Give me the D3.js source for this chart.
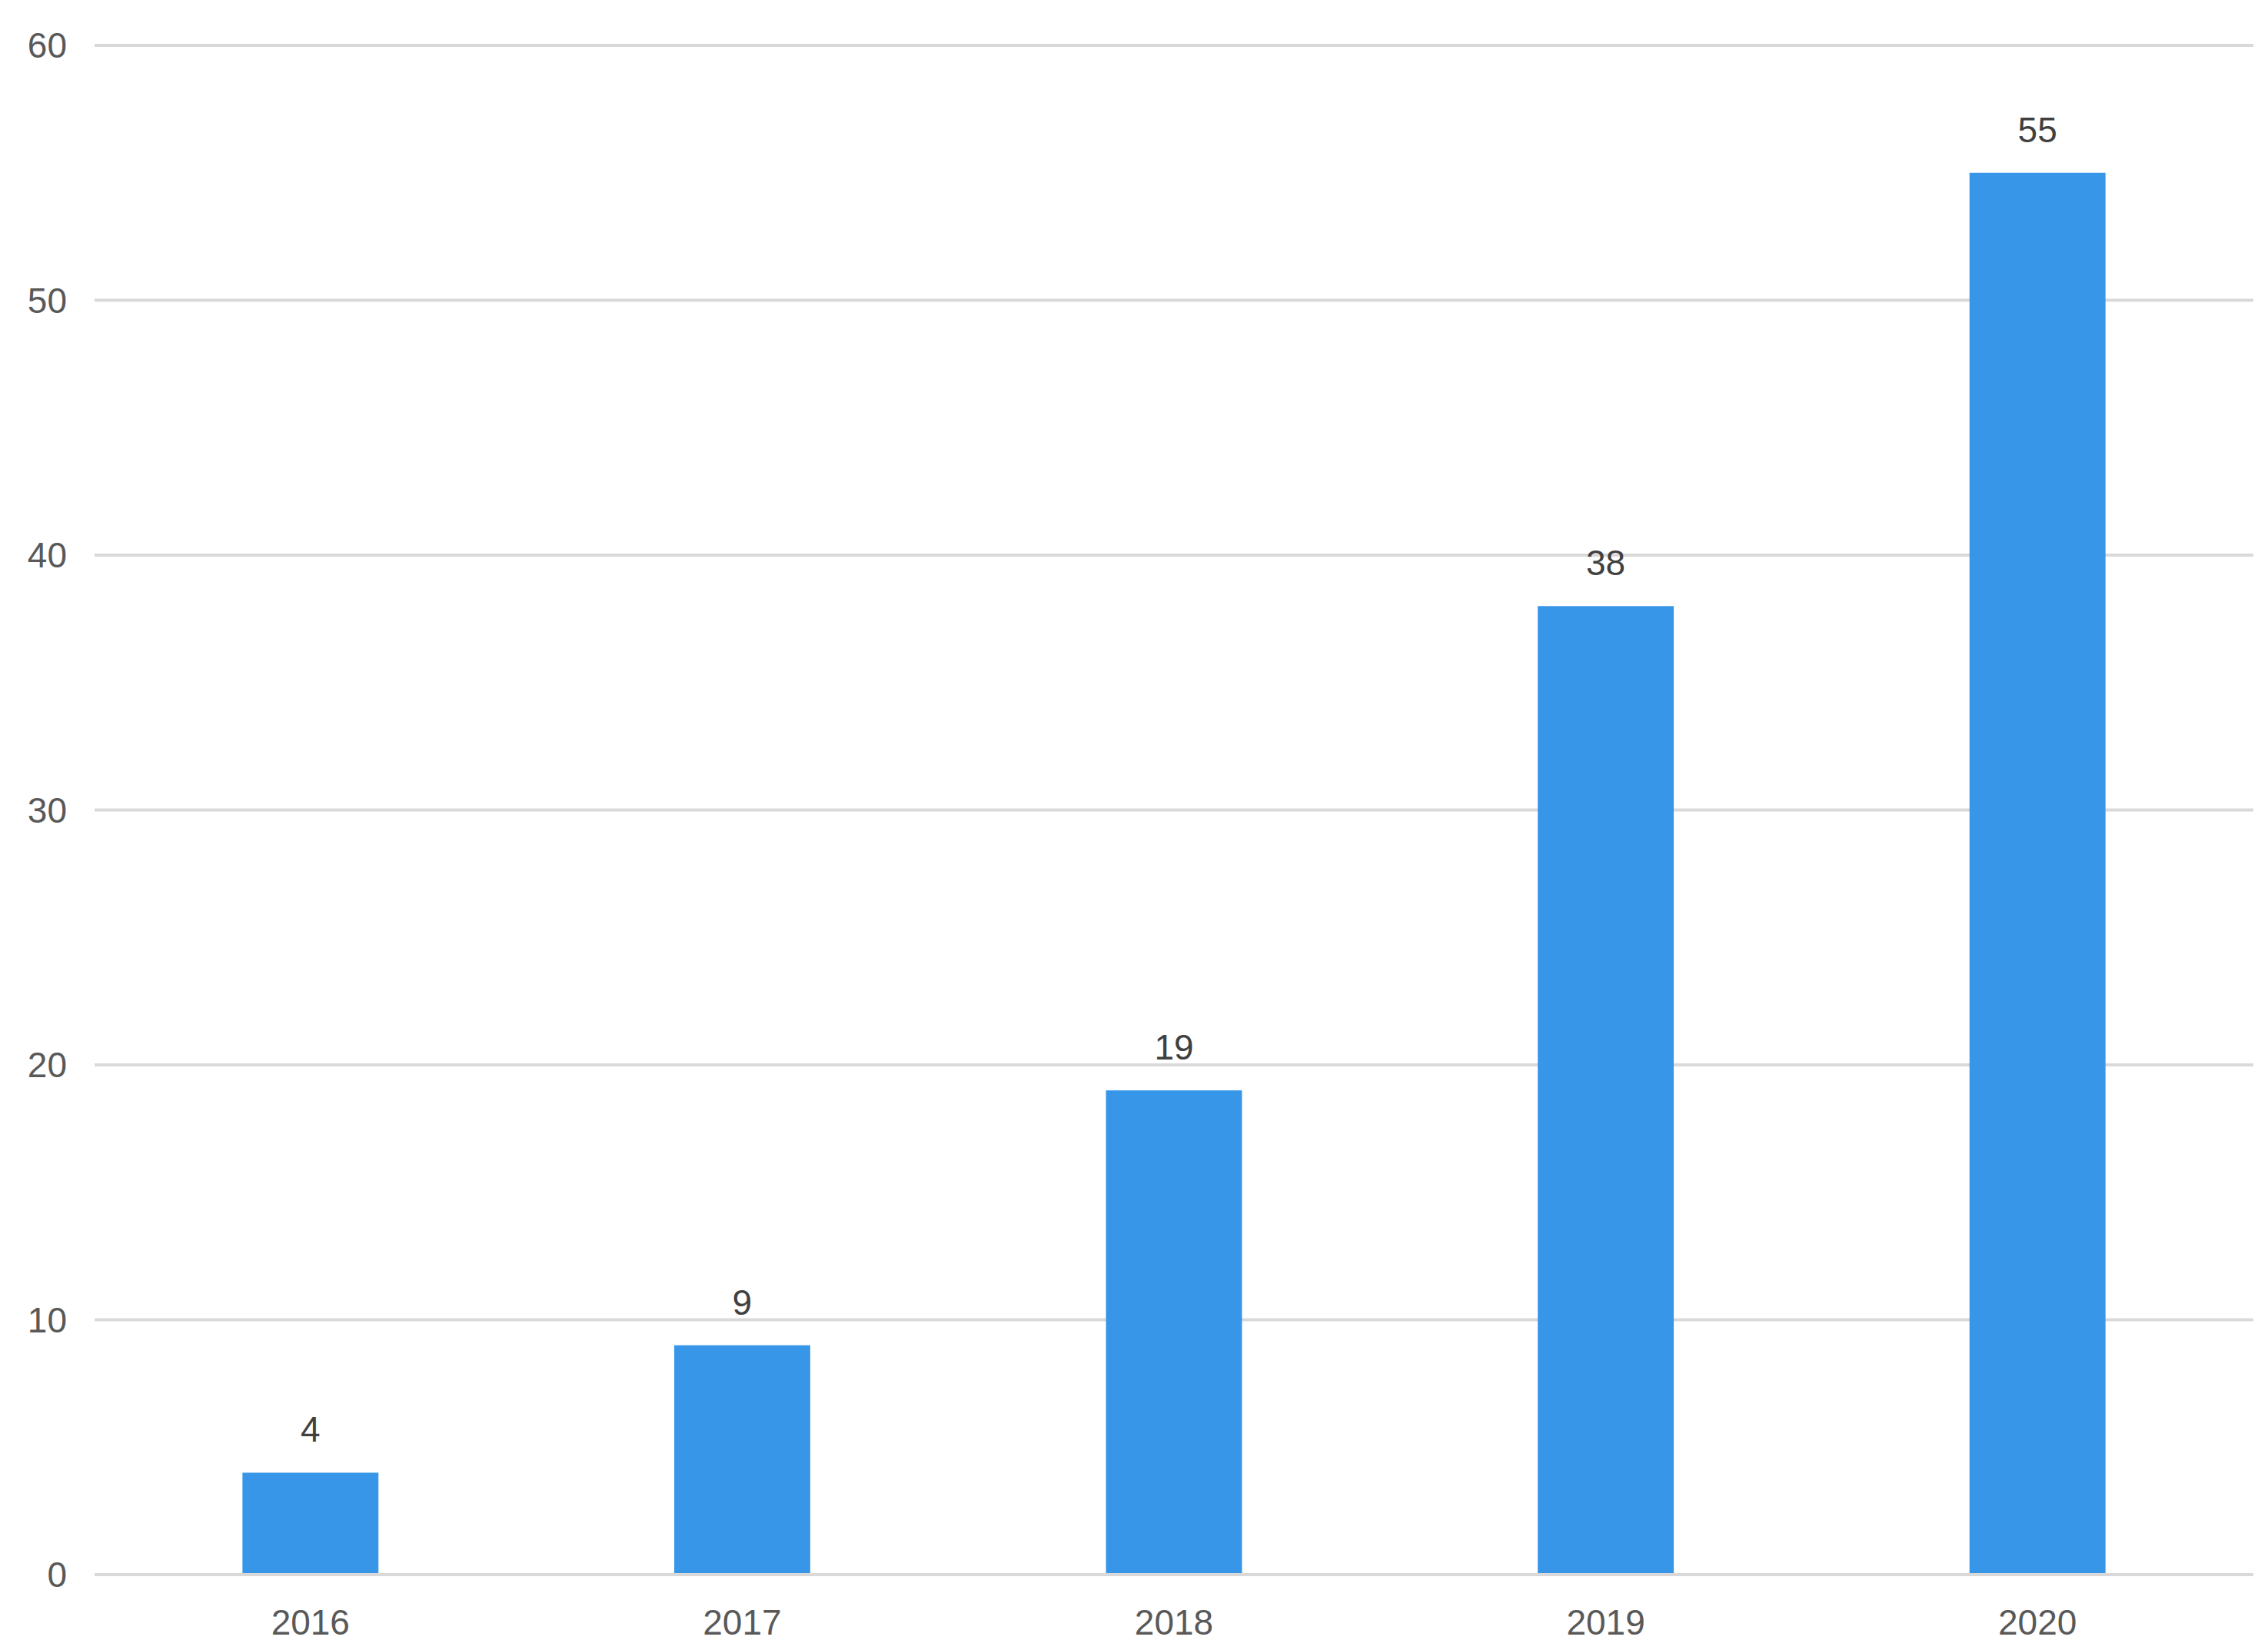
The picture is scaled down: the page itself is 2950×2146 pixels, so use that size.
<!DOCTYPE html>
<html><head><meta charset="utf-8">
<script src="https://cdn.jsdelivr.net/npm/d3@7"></script>
<style>body{margin:0;background:#fff}</style>
</head><body>
<svg id="c" width="2950" height="2146"></svg>
<script>
const categories = ["2016","2017","2018","2019","2020"];
const values = [4,9,19,38,55];
const yTicks = [0,10,20,30,40,50,60];

const svg = d3.select("#c");
const L=123,R=2931,T=59,B=2048;
const x = d3.scaleBand().domain(categories).range([L,R]).paddingInner(0.685).paddingOuter(0.3425);
const y = d3.scaleLinear().domain([0,60]).range([B,T]);
const font = "Liberation Sans, Arial, sans-serif";

svg.append("g").selectAll("line").data(yTicks).join("line")
  .attr("x1",L).attr("x2",R).attr("y1",d=>y(d)).attr("y2",d=>y(d))
  .attr("stroke","#d9d9d9").attr("stroke-width",4);

svg.append("g").selectAll("text").data(yTicks).join("text")
  .attr("x",L-36).attr("y",d=>y(d)).attr("dy","0.35em").attr("text-anchor","end")
  .attr("font-family",font).attr("font-size",46).attr("fill","#595959").text(d=>d);

svg.append("g").selectAll("rect").data(values).join("rect")
  .attr("x",(d,i)=>x(categories[i])).attr("width",x.bandwidth())
  .attr("y",d=>y(d)).attr("height",d=>y(0)-y(d)-2).attr("fill","#3896E8");

svg.append("g").selectAll("text").data(values).join("text")
  .attr("x",(d,i)=>x(categories[i])+x.bandwidth()/2).attr("y",d=>y(d)-40)
  .attr("text-anchor","middle").attr("font-family",font).attr("font-size",46)
  .attr("fill","#404040").text(d=>d);

svg.append("g").selectAll("text").data(categories).join("text")
  .attr("x",d=>x(d)+x.bandwidth()/2).attr("y",B+78)
  .attr("text-anchor","middle").attr("font-family",font).attr("font-size",46)
  .attr("fill","#595959").text(d=>d);
</script>
</body></html>
